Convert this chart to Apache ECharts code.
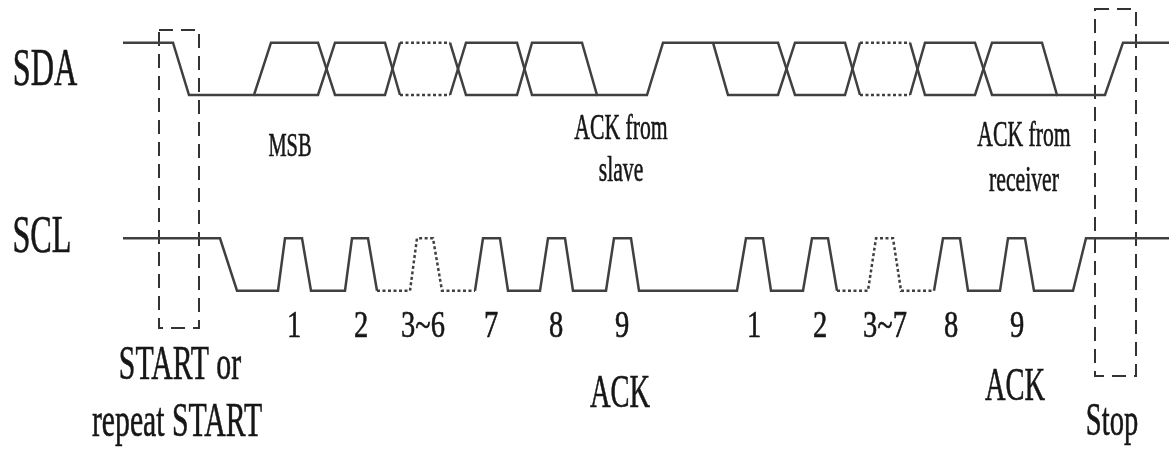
<!DOCTYPE html>
<html>
<head>
<meta charset="utf-8">
<script src="https://cdn.jsdelivr.net/npm/echarts@6/dist/echarts.min.js"></script>
<style>
html,body{margin:0;padding:0;background:#fff;}
#c{width:1169px;height:452px;}
</style>
</head>
<body>
<div id="c"></div>
<script>
// ---- waveform data: [time, level] (level 1 = high, 0 = low) ----
const sdaSolid = [
  [[123,1],[173,1],[189,0],[254,0],[271,1],[318,1],[335,0],[385,0],[400,1]],
  [[254,0],[318,0],[335,1],[385,1],[400,0]],
  [[450,1],[466,0],[517,0],[532,1],[582,1],[597,0],[647,0],[663,1],[713,1],[778,1],[795,0],[845,0],[860,1]],
  [[450,0],[466,1],[517,1],[532,0],[597,0]],
  [[713,1],[728,0],[778,0],[795,1],[845,1],[860,0]],
  [[910,1],[925,0],[975,0],[992,1],[1042,1],[1057,0],[1105,0],[1123,1],[1169,1]],
  [[910,0],[925,1],[975,1],[992,0],[1057,0]]
];
const sdaDotted = [
  [[400,1],[450,1]], [[400,0],[450,0]],
  [[860,1],[910,1]], [[860,0],[910,0]]
];
const sclSolid = [
  [[123,1],[220,1],[237,0],[278,0],[285,1],[302,1],[311,0],[345,0],[352,1],[368,1],[377,0]],
  [[475,0],[483,1],[500,1],[508,0],[540,0],[548,1],[565,1],[573,0],[606,0],[614,1],[631,1],[639,0],[737,0],[746,1],[763,1],[771,0],[803,0],[812,1],[828,1],[837,0]],
  [[934,0],[943,1],[960,1],[968,0],[1000,0],[1008,1],[1025,1],[1034,0],[1073,0],[1086,1],[1169,1]]
];
const sclDotted = [
  [[377,0],[410,0],[417,1],[433,1],[442,0],[475,0]],
  [[837,0],[868,0],[876,1],[893,1],[901,0],[934,0]]
];
const bitLabels = ['1','2','3~6','7','8','9','1','2','3~7','8','9'];
const bitTimes  = [294,361,423,491,556,622,754,820,885,951,1017];
const startBox = [159,199];   // time range of START marker
const stopBox  = [1095,1136]; // time range of Stop marker

const LINE = '#404040';
const TEXT = '#161616';
const FONT = '"Liberation Serif","DejaVu Serif",serif';
const SX = 0.62;

const series = [];
function addLines(list, grid, dotted) {
  list.forEach(pts => series.push({
    type: 'line', xAxisIndex: grid, yAxisIndex: grid, data: pts,
    showSymbol: false, symbol: 'none', clip: false, animation: false, silent: true,
    lineStyle: { color: LINE, width: 2.5, type: dotted ? [3, 2.5] : 'solid', cap: 'butt', join: 'miter' }
  }));
}
addLines(sdaSolid, 0, false);
addLines(sdaDotted, 0, true);
addLines(sclSolid, 1, false);
addLines(sclDotted, 1, true);

const hiddenX = gi => ({ type: 'value', gridIndex: gi, min: 0, max: 1169, show: false });
const hiddenY = gi => ({ type: 'value', gridIndex: gi, min: 0, max: 1, show: false });

const chart = echarts.init(document.getElementById('c'), null, { renderer: 'canvas' });
chart.setOption({
  backgroundColor: '#fff',
  animation: false,
  grid: [
    { left: 0, right: 0, top: 42.7, height: 52.3 },
    { left: 0, right: 0, top: 238.3, height: 52.4 }
  ],
  xAxis: [hiddenX(0), hiddenX(1)],
  yAxis: [hiddenY(0), hiddenY(1)],
  series: series
});

function txt(text, x, y, size, sx) {
  return {
    type: 'text', x: x, y: y, scaleX: sx || SX, silent: true,
    style: { text: text, font: size + 'px ' + FONT, fill: TEXT, stroke: TEXT, lineWidth: 0.6,
             align: 'center', verticalAlign: 'middle', textAlign: 'center', textVerticalAlign: 'middle' }
  };
}
const px = (t, grid) => chart.convertToPixel({ gridIndex: grid }, [t, 0])[0];

const g = [];
// dashed marker boxes
const box = (x0, x1, y0, y1) => ({
  type: 'rect', silent: true,
  shape: { x: x0, y: y0, width: x1 - x0, height: y1 - y0 },
  style: { fill: 'none', stroke: '#333', lineWidth: 2, lineDash: [14, 8] }
});
g.push(box(px(startBox[0],0), px(startBox[1],0), 30, 328));
g.push(box(px(stopBox[0],0), px(stopBox[1],0), 9, 376));
// signal names
g.push(txt('SDA', 45, 71, 52));
g.push(txt('SCL', 42, 238, 52));
// annotations
g.push(txt('MSB', 290, 147, 33));
g.push(txt('ACK from', 621, 130, 35));
g.push(txt('slave', 621, 172, 35));
g.push(txt('ACK from', 1024, 137, 35));
g.push(txt('receiver', 1024, 182, 35));
// bit numbers
bitLabels.forEach((l, i) => g.push(txt(l, px(bitTimes[i], 1), 327, 38, 0.75)));
g.push(txt('ACK', 620, 395, 46));
g.push(txt('ACK', 1015, 388, 46));
g.push(txt('START or', 180, 366, 48));
g.push(txt('repeat START', 177, 423, 48));
g.push(txt('Stop', 1112, 423, 46));

chart.setOption({ graphic: g });
</script>
</body>
</html>
